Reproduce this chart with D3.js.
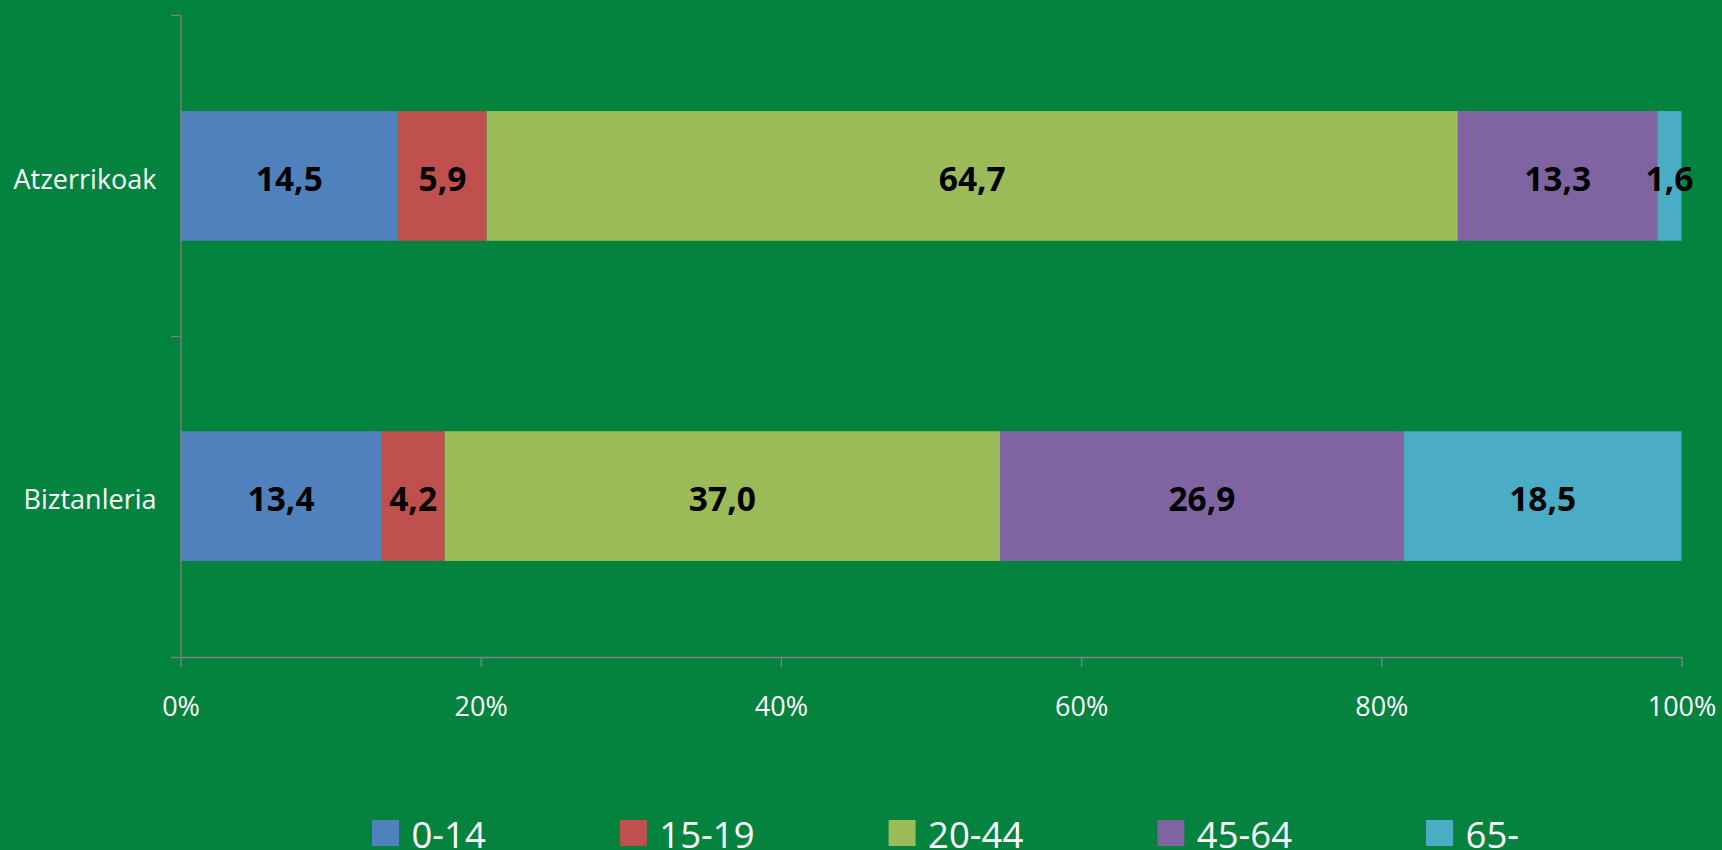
<!DOCTYPE html>
<html>
<head>
<meta charset="utf-8">
<script src="https://cdn.jsdelivr.net/npm/d3@7"></script>
<style>
  html, body { margin: 0; padding: 0; background: #04833f; }
  svg { display: block; }
  text { font-family: "Open Sans", sans-serif; }
</style>
</head>
<body>
<div id="chart"></div>
<script>
// categories, top to bottom
var categories = ["Atzerrikoak", "Biztanleria"];
// age groups (stack order, left to right)
var groups = ["0-14", "15-19", "20-44", "45-64", "65-"];
var colors = ["#4f81bd", "#c0504d", "#9bbb59", "#8064a2", "#4bacc6"];
// percentages per group, one value per category
var g0_14  = [14.5, 13.4];
var g15_19 = [5.9, 4.2];
var g20_44 = [64.7, 37.0];
var g45_64 = [13.3, 26.9];
var g65    = [1.6, 18.5];
var xTicks = [0, 20, 40, 60, 80, 100];

function init() {
    var width = 1722;
    var height = 850;
    var left = 180.5, right = 1681.5, top = 15, bottom = 657;

    var series = [g0_14, g15_19, g20_44, g45_64, g65];
    var table = categories.map(function(c, i) {
        var row = { cat: c };
        groups.forEach(function(g, j) { row[g] = series[j][i]; });
        return row;
    });
    var stacked = d3.stack().keys(groups)(table);

    var svg = d3.select("#chart")
        .append("svg")
        .attr("width", width)
        .attr("height", height);

    svg.append("rect")
        .attr("width", width)
        .attr("height", height)
        .attr("fill", "#04833f");

    var xScale = d3.scaleLinear()
        .domain([0, 100])
        .range([left, right]);

    var yScale = d3.scaleBand()
        .domain(categories)
        .range([top, bottom])
        .paddingInner(0.595)
        .paddingOuter(0.3);

    // bars
    var layers = svg.selectAll("g.layer")
        .data(stacked)
        .enter()
        .append("g")
        .attr("class", "layer")
        .attr("fill", function(d, i) { return colors[i]; });

    layers.selectAll("rect")
        .data(function(d) { return d; })
        .enter()
        .append("rect")
        .attr("x", function(d) { return xScale(d[0]); })
        .attr("y", function(d) { return yScale(d.data.cat); })
        .attr("width", function(d) { return xScale(d[1]) - xScale(d[0]); })
        .attr("height", yScale.bandwidth());

    // x axis
    var xAxis = d3.axisBottom(xScale)
        .tickValues(xTicks)
        .tickSize(10)
        .tickSizeOuter(0)
        .tickPadding(30)
        .tickFormat(function(d) { return d + "%"; });

    var gx = svg.append("g")
        .attr("transform", "translate(0," + bottom + ")")
        .call(xAxis);
    gx.selectAll("path, line").attr("stroke", "#808080").attr("stroke-width", 1.3);
    gx.selectAll("text")
        .attr("fill", "#ffffff")
        .attr("font-size", "27px");

    // y axis: ticks between categories
    var yEdges = d3.scaleLinear().domain([0, categories.length]).range([top, bottom]);
    var gy = svg.append("g")
        .attr("transform", "translate(" + left + ",0)")
        .call(d3.axisLeft(yEdges).tickValues([0, 1, 2]).tickSize(9.5).tickSizeOuter(0).tickFormat(""));
    gy.selectAll("path, line").attr("stroke", "#808080").attr("stroke-width", 1.3);

    // category labels
    var gc = svg.append("g")
        .attr("transform", "translate(" + left + ",0)")
        .call(d3.axisLeft(yScale).tickSize(0).tickPadding(24));
    gc.select(".domain").remove();
    gc.selectAll("text")
        .attr("fill", "#ffffff")
        .attr("font-size", "27px")
        .attr("dy", "0.48em");

    // value labels
    var fmt = d3.format(".1f");
    layers.selectAll("text")
        .data(function(d) { return d; })
        .enter()
        .append("text")
        .text(function(d) { return fmt(d[1] - d[0]).replace(".", ","); })
        .attr("x", function(d) {
            var mid = xScale((d[0] + d[1]) / 2);
            // the 13,3 label was dragged right by hand in the original
            if (d.data.cat == "Atzerrikoak" && d.data["45-64"] == d[1] - d[0]) mid += 34;
            return mid;
        })
        .attr("y", function(d) { return yScale(d.data.cat) + yScale.bandwidth() / 2; })
        .attr("dy", "0.45em")
        .attr("text-anchor", "middle")
        .attr("font-size", "33.5px")
        .attr("font-weight", "bold")
        .attr("fill", "#000000");

    // legend
    var legend = svg.append("g");
    var lx = 372;
    groups.forEach(function(g, i) {
        legend.append("rect")
            .attr("x", lx)
            .attr("y", 820)
            .attr("width", 27)
            .attr("height", 26)
            .attr("fill", colors[i]);
        var t = legend.append("text")
            .attr("x", lx + 39.5)
            .attr("y", 848)
            .attr("font-size", "36.5px")
            .attr("fill", "#ffffff")
            .text(g);
        lx += 39.5 + t.node().getComputedTextLength() + 134;
    });
}
window.onload = init;
</script>
</body>
</html>
